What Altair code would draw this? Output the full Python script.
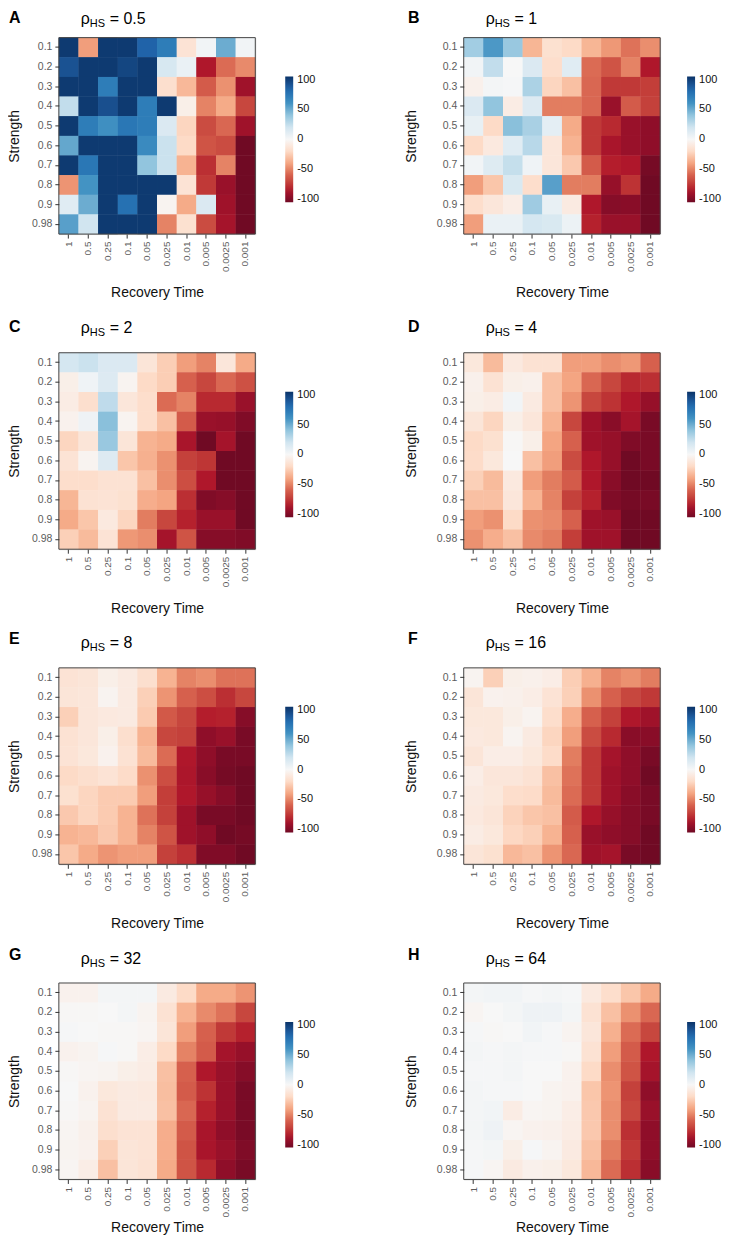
import altair as alt
import pandas as pd

recovery = ["1","0.5","0.25","0.1","0.05","0.025","0.01","0.005","0.0025","0.001"]
strength = ["0.1","0.2","0.3","0.4","0.5","0.6","0.7","0.8","0.9","0.98"]
letters = ["A","B","C","D","E","F","G","H"]
rho_labels = ["0.5","1","2","4","8","16","32","64"]

panel_a = [
[102,-42,102,102,85,72,-14,3,50,3],
[92,102,102,97,102,17,7,-85,-57,-48],
[102,102,72,102,102,-17,-33,-62,-46,-90],
[25,102,93,102,72,102,-6,-50,-38,-70],
[102,72,62,75,72,15,-22,-68,-58,-90],
[52,102,102,102,65,22,-20,-65,-68,-105],
[102,75,102,102,40,22,-35,-78,-50,-105],
[-45,60,102,102,102,102,-14,-75,-92,-105],
[12,50,102,78,102,-3,-38,15,-90,-105],
[55,20,102,102,102,-50,-16,-68,-88,-105]]
panel_b = [
[35,58,38,-34,-16,-20,-34,-44,-55,-47],
[3,25,0,15,-18,12,-57,-65,-50,-85],
[-5,2,1,32,-22,-30,-58,-75,-75,-73],
[15,40,-8,14,-52,-52,-58,-92,-62,-72],
[8,-20,42,33,10,-38,-75,-80,-92,-95],
[-20,-10,12,28,-12,-35,-75,-87,-92,-95],
[3,13,24,4,-12,-27,-62,-83,-85,-103],
[-42,-28,16,-18,55,-52,-52,-93,-77,-105],
[-18,-12,-7,36,8,-9,-85,-98,-97,-105],
[-42,7,7,18,16,6,-82,-92,-92,-105]]
panel_c = [
[18,22,15,15,-13,-25,-42,-50,-12,-38],
[-6,4,14,-3,-20,-25,-60,-70,-58,-66],
[-8,-17,26,-12,-18,-57,-50,-80,-80,-92],
[-4,5,42,-3,-18,-30,-62,-92,-93,-100],
[-22,-13,38,-13,-35,-38,-87,-105,-88,-105],
[-14,-3,14,-28,-36,-46,-72,-76,-105,-105],
[-18,-18,-15,-15,-30,-47,-67,-85,-105,-105],
[-34,-15,-14,-16,-37,-40,-78,-100,-98,-105],
[-38,-28,-10,-22,-52,-70,-82,-92,-92,-105],
[-24,-32,-14,-44,-47,-88,-65,-98,-98,-100]]
panel_d = [
[-11,-32,-10,-15,-15,-42,-42,-47,-44,-60],
[-5,-15,-6,-5,-30,-40,-58,-70,-80,-78],
[-6,-8,3,-9,-30,-45,-70,-77,-85,-93],
[-13,-22,-6,-12,-35,-70,-90,-97,-88,-102],
[-20,-16,-1,-6,-40,-60,-90,-93,-100,-102],
[-19,-11,0,-30,-42,-68,-85,-93,-105,-102],
[-24,-32,-10,-42,-52,-62,-85,-97,-105,-105],
[-30,-30,-12,-35,-50,-72,-82,-100,-103,-102],
[-42,-46,-20,-46,-48,-60,-90,-92,-105,-105],
[-46,-37,-30,-48,-52,-73,-90,-90,-105,-105]]
panel_e = [
[-14,-13,-6,-9,-17,-35,-50,-47,-55,-55],
[-13,-12,-3,-9,-24,-45,-60,-67,-78,-70],
[-24,-12,-10,-9,-26,-63,-70,-83,-82,-98],
[-15,-12,-6,-17,-35,-70,-72,-95,-92,-102],
[-14,-11,-4,-15,-32,-57,-85,-95,-102,-102],
[-20,-17,-14,-19,-46,-67,-86,-97,-103,-105],
[-16,-22,-26,-26,-42,-73,-85,-93,-98,-105],
[-27,-22,-26,-35,-55,-72,-90,-102,-102,-105],
[-35,-33,-27,-35,-50,-65,-90,-95,-105,-103],
[-28,-38,-45,-42,-42,-72,-78,-100,-100,-105]]
panel_f = [
[-3,-24,-6,-5,-7,-25,-36,-50,-46,-52],
[-13,-4,-5,-7,-14,-24,-46,-60,-70,-75],
[-11,-11,-6,-3,-18,-37,-60,-72,-85,-90],
[-10,-11,-3,-9,-22,-42,-68,-80,-97,-97],
[-13,-7,-7,-11,-19,-52,-75,-88,-95,-102],
[-7,-12,-12,-15,-30,-55,-75,-90,-95,-105],
[-9,-11,-18,-19,-32,-57,-75,-90,-97,-102],
[-10,-13,-23,-28,-30,-62,-85,-93,-98,-102],
[-8,-11,-21,-24,-35,-60,-92,-95,-98,-105],
[-13,-16,-33,-30,-45,-58,-90,-88,-102,-105]]
panel_g = [
[-4,-4,2,2,2,-9,-20,-38,-38,-45],
[-1,-1,0,2,-3,-15,-35,-48,-55,-70],
[1,0,-1,-1,-2,-13,-42,-60,-75,-82],
[-4,-3,1,-1,-7,-20,-50,-62,-88,-93],
[-1,-2,-3,-6,-8,-30,-60,-85,-92,-98],
[0,-4,-11,-9,-10,-31,-62,-77,-92,-102],
[-1,-3,-15,-9,-9,-30,-58,-82,-92,-102],
[-2,-5,-17,-14,-14,-37,-62,-87,-95,-102],
[-3,-4,-24,-13,-14,-37,-65,-87,-92,-100],
[-2,-7,-30,-13,-15,-38,-65,-80,-95,-102]]
panel_h = [
[2,3,3,1,2,1,-10,-18,-28,-38],
[-2,0,2,5,5,2,-15,-30,-46,-58],
[1,-1,0,3,1,-3,-12,-36,-57,-70],
[2,1,2,1,1,-1,-15,-42,-62,-85],
[1,1,2,0,0,-4,-20,-47,-65,-88],
[2,1,1,0,-3,-4,-28,-45,-72,-95],
[2,3,-8,-2,-3,-7,-27,-47,-70,-92],
[2,5,-2,-4,-5,-8,-27,-47,-78,-95],
[1,2,-6,1,-3,-9,-30,-52,-75,-95],
[1,-2,-9,-5,-6,-11,-33,-57,-78,-97]]
panels = [panel_a,panel_b,panel_c,panel_d,panel_e,panel_f,panel_g,panel_h]
legend_values = [100,50,0,-50,-100]
color_domain = [-105,-84,-60,-40,-20,0,20,40,60,84,105]
color_range = ["#700a24","#b2182b","#d6604d","#f4a582","#fddbc7","#f7f7f7","#d1e5f0","#92c5de","#4393c3","#2166ac","#0a3368"]

FONT = "Liberation Sans"
SIZE = 197
letter_y = [-15,-15,-21,-21,-24,-24,-23,-23]
title_y = [-14,-14,-20,-20,-20,-20,-19,-19]


def text_layer(txt, x, y, size, weight="normal", color="#000000"):
    return alt.Chart(pd.DataFrame({"t":[txt]})).mark_text(
        align="left", baseline="alphabetic", font=FONT, fontSize=size,
        fontWeight=weight, color=color
    ).encode(x=alt.value(x), y=alt.value(y), text="t:N")


def panel(i):
    rows = [{"s":strength[r],"t":recovery[c],"v":panels[i][r][c]} for r in range(10) for c in range(10)]
    left = i % 2 == 0
    scale = alt.Scale(domain=color_domain, range=color_range, clamp=True)
    heat = alt.Chart(pd.DataFrame(rows)).mark_rect(strokeWidth=0).encode(
        x=alt.X("t:N", sort=recovery, scale=alt.Scale(paddingInner=0, paddingOuter=0),
                axis=alt.Axis(title="Recovery Time", labelAngle=270, labelAlign="right", labelBaseline="middle",
                              labelFontSize=10, labelColor="#5c5c5c", labelFont=FONT, labelPadding=3,
                              tickColor="#333333", tickSize=4, tickWidth=1, domain=False, grid=False,
                              titleFontSize=14, titleFont=FONT, titleFontWeight="normal", titleColor="#111111",
                              titleY=52 if i >= 6 else 63, titleX=SIZE/2, titleBaseline="alphabetic", labelOverlap=False)),
        y=alt.Y("s:N", sort=strength, scale=alt.Scale(paddingInner=0, paddingOuter=0),
                axis=alt.Axis(title="Strength", labelFontSize=10.5, labelColor="#5c5c5c", labelFont=FONT,
                              labelPadding=3, tickColor="#333333", tickSize=4, tickWidth=1, domain=False, grid=False,
                              titleFontSize=14, titleFont=FONT, titleFontWeight="normal", titleColor="#111111",
                              titleX=-37 if left else -45, titleY=SIZE/2, labelOverlap=False)),
        color=alt.Color("v:Q", scale=scale,
                        legend=alt.Legend(title=None, orient="none", legendX=227 if left else 224, legendY=39,
                                          gradientLength=126, gradientThickness=8, values=legend_values,
                                          labelExpr="replace(datum.label, '\u2212', '-')", labelFontSize=11,
                                          labelColor="#111111", labelFont=FONT, gradientStrokeWidth=0, labelOffset=4)),
    )
    border = alt.Chart(pd.DataFrame({"t":[letters[i]]})).mark_rect(fillOpacity=0, stroke="#444444", strokeWidth=1).encode(
        x=alt.value(0), x2=alt.value(SIZE), y=alt.value(0), y2=alt.value(SIZE))
    letter = text_layer(letters[i], -50 if left else -56, letter_y[i], 16, "bold")
    rho = text_layer("\u03c1", 22, title_y[i], 16)
    hs = text_layer("HS", 31, title_y[i] + 3, 11)
    eq = text_layer("= " + rho_labels[i], 51, title_y[i], 16)
    return alt.layer(heat, heat, border, letter, rho, hs, eq).properties(width=SIZE, height=SIZE)


chart = alt.concat(*[panel(i) for i in range(8)], columns=2, spacing={"column":209,"row":119}, bounds="flush").resolve_scale(color="independent").configure_view(stroke=None).configure(background="white").properties(padding={"left":-1,"top":-1,"right":-1,"bottom":1})

chart.save("out.html", embed_options={"renderer": "svg", "actions": False})
